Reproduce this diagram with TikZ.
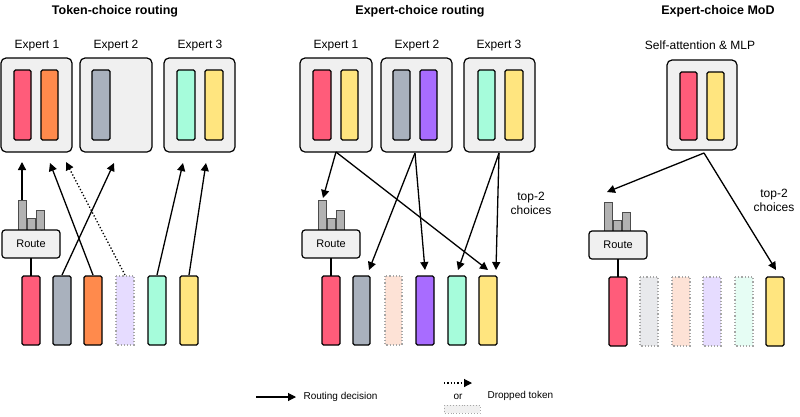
\documentclass[tikz,border=0pt]{standalone}
\usepackage{fontspec}
\setmainfont{Liberation Sans}
\usetikzlibrary{arrows.meta}
\definecolor{cred}{HTML}{FF5C7A}
\definecolor{corange}{HTML}{FF8A4C}
\definecolor{cgray}{HTML}{A9B1BD}
\definecolor{cteal}{HTML}{A6FCDB}
\definecolor{cyellow}{HTML}{FFE57F}
\definecolor{cpurple}{HTML}{A86CFF}
\definecolor{clav}{HTML}{E6DCFF}
\definecolor{cpeach}{HTML}{FDE2D6}
\definecolor{clgray}{HTML}{E8E9EC}
\definecolor{cmint}{HTML}{E6FDF4}
\definecolor{boxbg}{HTML}{F0F0F0}
\tikzset{
 ebox/.style={draw=black,line width=1.2pt,fill=boxbg,rounded corners=5pt},
 tok/.style={draw=black,line width=1.2pt,rounded corners=1.5pt},
 drop/.style={draw=gray!70,dotted,line width=1.2pt},
 arr/.style={-{Triangle[length=8pt,width=8pt]},line width=1.3pt},
 darr/.style={arr,dotted},
 bar/.style={draw=black!70,fill=gray!60,line width=0.6pt},
 rbox/.style={draw=black,line width=1.2pt,fill=boxbg,rounded corners=3pt,font=\fontsize{11}{13}\selectfont,minimum width=58pt,minimum height=28pt,inner sep=0pt},
 lab/.style={font=\fontsize{12}{14}\selectfont},
 ttl/.style={font=\bfseries\fontsize{12.5}{14}\selectfont},
}
\newcommand{\tk}[5]{\draw[#5] (#1,#2) rectangle (#3,#4);}
\begin{document}
\begin{tikzpicture}[x=1pt,y=-1pt]
\useasboundingbox (0,0) rectangle (800,416);
% titles
\node[ttl] at (115,11) {Token-choice routing};
\node[ttl] at (420,11) {Expert-choice routing};
\node[ttl] at (718,11) {Expert-choice MoD};
% ===== Panel 1 =====
\node[lab] at (37,46) {Expert 1};
\node[lab] at (116,46) {Expert 2};
\node[lab] at (200,46) {Expert 3};
\draw[ebox] (1,58) rectangle (72,152);
\draw[ebox] (80,58) rectangle (152,152);
\draw[ebox] (164,58) rectangle (235,152);
\tk{14}{70}{31}{140}{tok,fill=cred}
\tk{41}{70}{58}{140}{tok,fill=corange}
\tk{92}{70}{110}{140}{tok,fill=cgray}
\tk{177}{70}{195}{140}{tok,fill=cteal}
\tk{205}{70}{223}{140}{tok,fill=cyellow}
\draw[bar] (18,200) rectangle (26,230); \draw[bar] (27,218) rectangle (35,230); \draw[bar] (36,210) rectangle (44,230);
\node[rbox] (r1) at (31,244) {Route};
\tk{22}{276}{40}{345}{tok,fill=cred}
\tk{53}{276}{71}{345}{tok,fill=cgray}
\tk{84}{276}{102}{345}{tok,fill=corange}
\tk{116}{276}{134}{345}{drop,fill=clav}
\tk{148}{276}{166}{345}{tok,fill=cteal}
\tk{180}{276}{198}{345}{tok,fill=cyellow}
\draw[line width=1.2pt] (31,258) -- (31,276);
\coordinate (p1a) at (22,200); \coordinate (p1b) at (22,162);
\draw[arr] (p1a) -- (p1b);
\coordinate (p2a) at (93,275); \coordinate (p2b) at (50,163);
\draw[arr] (p2a) -- (p2b);
\coordinate (p3a) at (62,275); \coordinate (p3b) at (114,163);
\draw[arr] (p3a) -- (p3b);
\coordinate (p4a) at (125,275); \coordinate (p4b) at (66,162);
\draw[darr] (p4a) -- (p4b);
\coordinate (p5a) at (157,275); \coordinate (p5b) at (183,163);
\draw[arr] (p5a) -- (p5b);
\coordinate (p6a) at (189,275); \coordinate (p6b) at (206,163);
\draw[arr] (p6a) -- (p6b);
% ===== Panel 2 =====
\node[lab] at (336,46) {Expert 1};
\node[lab] at (417,46) {Expert 2};
\node[lab] at (499,46) {Expert 3};
\draw[ebox] (300,58) rectangle (372,152);
\draw[ebox] (381,58) rectangle (452,152);
\draw[ebox] (464,58) rectangle (535,152);
\tk{313}{70}{331}{140}{tok,fill=cred}
\tk{341}{70}{358}{140}{tok,fill=cyellow}
\tk{393}{70}{410}{140}{tok,fill=cgray}
\tk{420}{70}{437}{140}{tok,fill=cpurple}
\tk{478}{70}{495}{140}{tok,fill=cteal}
\tk{505}{70}{523}{140}{tok,fill=cyellow}
\draw[bar] (318,200) rectangle (326,230); \draw[bar] (327,218) rectangle (335,230); \draw[bar] (336,210) rectangle (344,230);
\node[rbox] (r2) at (331,244) {Route};
\tk{322}{276}{340}{345}{tok,fill=cred}
\tk{353}{276}{370}{345}{tok,fill=cgray}
\tk{385}{276}{402}{345}{drop,fill=cpeach}
\tk{416}{276}{434}{345}{tok,fill=cpurple}
\tk{448}{276}{466}{345}{tok,fill=cteal}
\tk{479}{276}{497}{345}{tok,fill=cyellow}
\draw[line width=1.2pt] (331,258) -- (331,276);
\coordinate (e1) at (336,152); \coordinate (e2) at (415,153); \coordinate (e3) at (499,153);
\coordinate (q1) at (323,198); \coordinate (q2) at (488,270);
\coordinate (q3) at (369,270); \coordinate (q4) at (425,270);
\coordinate (q5) at (458,270); \coordinate (q6) at (496,270);
\draw[arr] (e1) -- (q1); \draw[arr] (e1) -- (q2);
\draw[arr] (e2) -- (q3); \draw[arr] (e2) -- (q4);
\draw[arr] (e3) -- (q5); \draw[arr] (e3) -- (q6);
\node[lab,align=center] at (531,203) {top-2\\choices};
% ===== Panel 3 =====
\node[lab] at (700,45) {Self-attention \& MLP};
\draw[ebox] (667,60) rectangle (737,150);
\tk{680}{72}{697}{140}{tok,fill=cred}
\tk{707}{72}{724}{140}{tok,fill=cyellow}
\draw[bar] (604,202) rectangle (612,232); \draw[bar] (613,220) rectangle (621,232); \draw[bar] (622,212) rectangle (630,232);
\node[rbox] (r3) at (618,245) {Route};
\tk{609}{277}{627}{346}{tok,fill=cred}
\tk{640}{277}{658}{346}{drop,fill=clgray}
\tk{672}{277}{690}{346}{drop,fill=cpeach}
\tk{703}{277}{721}{346}{drop,fill=clav}
\tk{735}{277}{753}{346}{drop,fill=cmint}
\tk{766}{277}{784}{346}{tok,fill=cyellow}
\draw[line width=1.2pt] (618,259) -- (618,277);
\coordinate (m0) at (704,153); \coordinate (m1) at (607,192); \coordinate (m2) at (776,270);
\draw[arr] (m0) -- (m1); \draw[arr] (m0) -- (m2);
\node[lab,align=center] at (774,200) {top-2\\choices};
% ===== Legend =====
\coordinate (l1) at (256,397); \coordinate (l2) at (296,397);
\draw[arr,line width=1.1pt] (l1) -- (l2);
\node[anchor=west,font=\fontsize{10}{12}\selectfont] at (300,397) {Routing decision};
\coordinate (l3) at (444,383); \coordinate (l4) at (472,383);
\draw[darr,line width=1.1pt] (l3) -- (l4);
\node[font=\fontsize{10}{12}\selectfont] at (458,397) {or};
\draw[drop,fill=boxbg,line width=0.9pt] (444,405) rectangle (480,413);
\node[anchor=west,font=\fontsize{10}{12}\selectfont] at (484,396) {Dropped token};
\end{tikzpicture}
\end{document}
